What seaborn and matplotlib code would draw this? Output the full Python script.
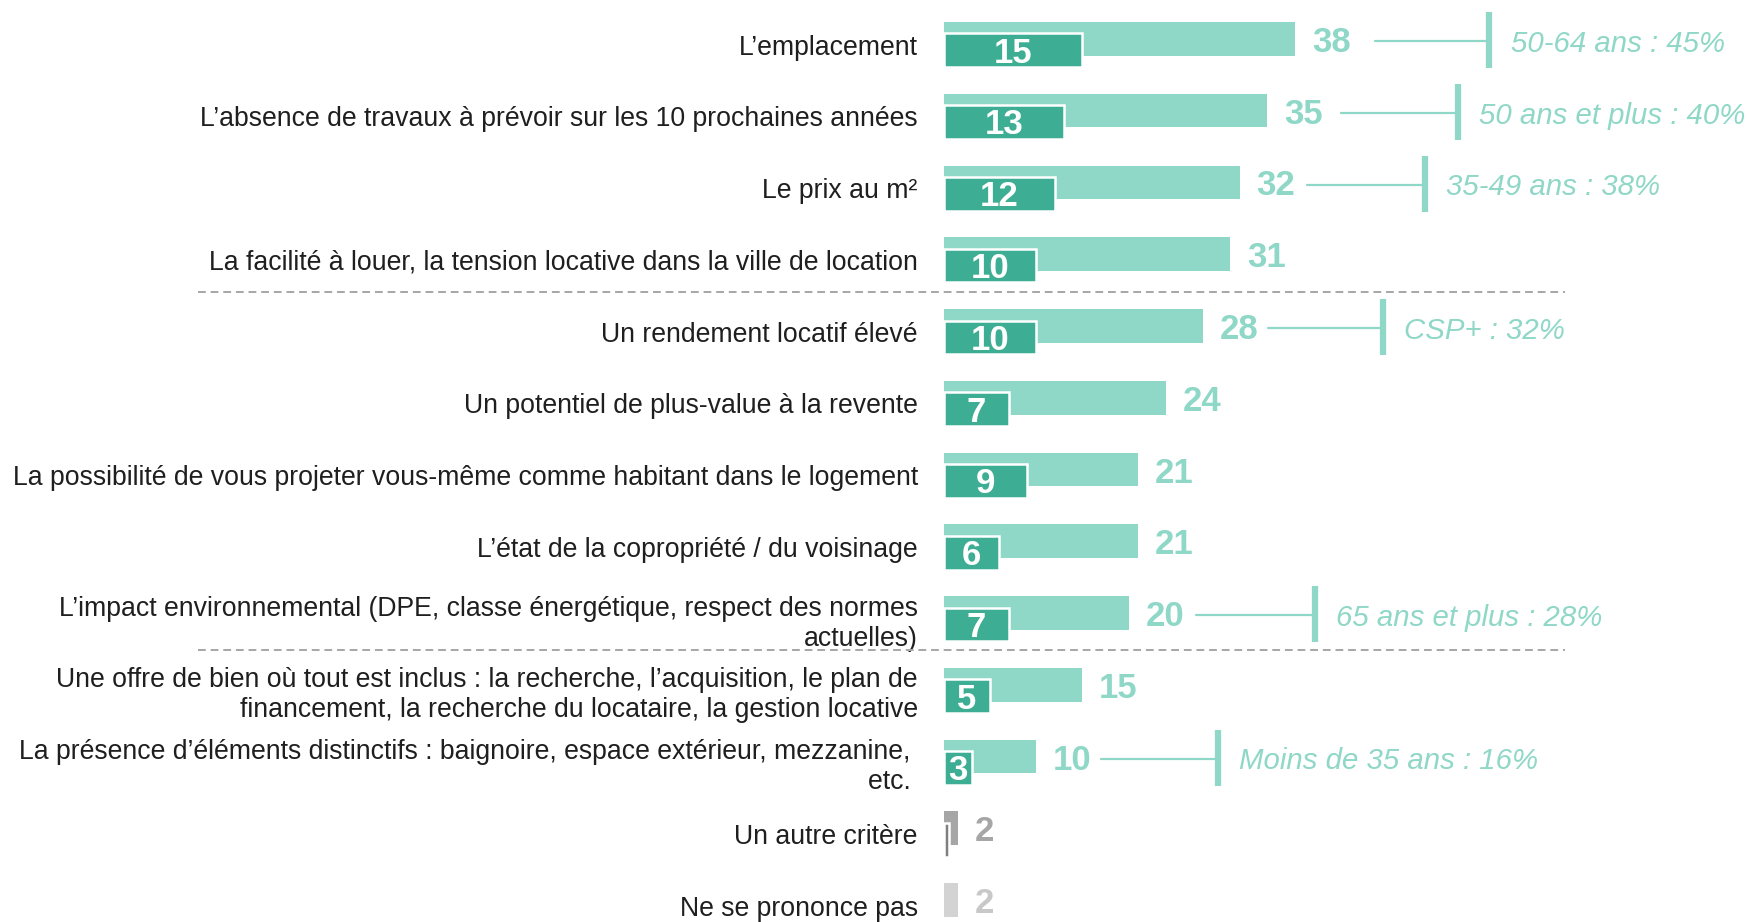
import numpy as np
import pandas as pd
import matplotlib
matplotlib.use("Agg")
import matplotlib.pyplot as plt
import seaborn as sns

# --- données ---
categories = [
    "L\u2019emplacement",
    "L\u2019absence de travaux à prévoir sur les 10 prochaines années",
    "Le prix au m²",
    "La facilité à louer, la tension locative dans la ville de location",
    "Un rendement locatif élevé",
    "Un potentiel de plus-value à la revente",
    "La possibilité de vous projeter vous-même comme habitant dans le logement",
    "L\u2019état de la copropriété / du voisinage",
    "L\u2019impact environnemental (DPE, classe énergétique, respect des normes\nactuelles)",
    "Une offre de bien où tout est inclus : la recherche, l\u2019acquisition, le plan de\nfinancement, la recherche du locataire, la gestion locative",
    "La présence d\u2019éléments distinctifs : baignoire, espace extérieur, mezzanine, \netc. ",
    "Un autre critère",
    "Ne se prononce pas",
]
total_values = [38, 35, 32, 31, 28, 24, 21, 21, 20, 15, 10, 1.5, 1.5]
total_labels = ["38", "35", "32", "31", "28", "24", "21", "21", "20", "15", "10", "2", "2"]
first_values = [15, 13, 12, 10, 10, 7, 9, 6, 7, 5, 3, 0.6, 0]
first_labels = ["15", "13", "12", "10", "10", "7", "9", "6", "7", "5", "3", "", ""]
note_rows = [0, 1, 2, 4, 8, 10]
note_texts = ["50-64 ans : 45%", "50 ans et plus : 40%", "35-49 ans : 38%",
              "CSP+ : 32%", "65 ans et plus : 28%", "Moins de 35 ans : 16%"]

LIGHT = "#8FD7C7"
DARK = "#3DAE93"
light_colors = [LIGHT] * 11 + ["#A6A6A6", "#D3D3D3"]
dark_colors = [DARK] * 11 + ["#7F7F7F", "#FFFFFF"]
value_colors = [LIGHT] * 11 + ["#A6A6A6", "#C8C8C8"]

# mise en page des renvois (début du trait, position de la barre verticale)
note_line_start = [46.6, 42.9, 39.3, 35.1, 27.3, 17.0]
note_bracket_x = [59.0, 55.6, 52.0, 47.5, 40.1, 29.6]
separators = [3.45, 8.43]

sns.set_style("white")
plt.rcParams["font.family"] = ["Liberation Sans", "DejaVu Sans"]

n = len(categories)
rows = np.arange(n)

fig = plt.figure(figsize=(17.49, 9.22), dpi=100)
ax = fig.add_axes([0.5396, 0.0, 0.4604, 1.0])

# barres "total" (claires), légèrement au-dessus
df_tot = pd.DataFrame({"pos": rows - 0.08, "val": total_values})
sns.barplot(data=df_tot, x="val", y="pos", orient="h", native_scale=True,
            width=0.47, color=LIGHT, errorbar=None, ax=ax, linewidth=0)
for bar, c in zip(ax.containers[0], light_colors):
    bar.set_facecolor(c)
    bar.set_edgecolor("none")

# barres "en premier" (foncées), décalées vers le bas, bord blanc
df_first = pd.DataFrame({"pos": rows + 0.08, "val": first_values})
sns.barplot(data=df_first, x="val", y="pos", orient="h", native_scale=True,
            width=0.47, color=DARK, errorbar=None, ax=ax,
            edgecolor="white", linewidth=1.8)
for bar, c, v in zip(ax.containers[1], dark_colors, first_values):
    bar.set_facecolor(c)
    if v == 0:
        bar.set_visible(False)

# étiquettes de valeurs
for i in rows:
    ax.text(total_values[i] + 1.8, i - 0.03, total_labels[i], ha="left", va="center",
            fontsize=25, fontweight="bold", color=value_colors[i])
    if first_labels[i]:
        ax.text(first_values[i] / 2, i + 0.12, first_labels[i], ha="center", va="center",
                fontsize=25, fontweight="bold", color="white")

# annotations par cible
for r, txt, x0, x1 in zip(note_rows, note_texts, note_line_start, note_bracket_x):
    ax.plot([x0, x1], [r - 0.05, r - 0.05], color=LIGHT, lw=1.6, clip_on=False)
    ax.plot([x1, x1], [r - 0.45, r + 0.33], color=LIGHT, lw=4.5, clip_on=False,
            solid_capstyle="butt")
    ax.text(x1 + 2.3, r - 0.01, txt, ha="left", va="center", fontsize=21.2,
            fontstyle="italic", color=LIGHT)

# séparateurs pointillés
for y in separators:
    ax.plot([-80.6, 67.2], [y, y], color="#A6A6A6", lw=1.4, ls=(0, (4, 2.5)),
            clip_on=False)

ax.set_xlim(0, 87.06)
ax.set_ylim(12.227, -0.6215)
ax.set_yticks(rows)
ax.set_yticklabels(categories, fontsize=19.2, color="#1F1F1F")
ax.tick_params(axis="y", length=0, pad=18.7)
ax.set_xticks([])
ax.set_xlabel("")
ax.set_ylabel("")
sns.despine(ax=ax, left=True, bottom=True)

fig.savefig("out.png", dpi=100)
